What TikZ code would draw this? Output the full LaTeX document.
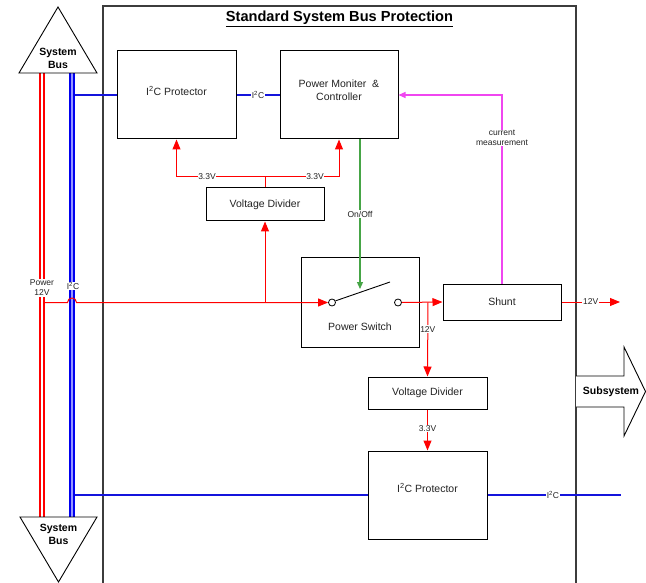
\documentclass[tikz,border=0pt]{standalone}
\usepackage{fontspec}
\setmainfont{Liberation Sans}
\usetikzlibrary{arrows.meta}
\definecolor{busred}{RGB}{255,0,0}
\definecolor{busblue}{RGB}{0,0,240}
\definecolor{busbluelight}{RGB}{150,150,255}
\definecolor{sigblue}{RGB}{20,20,220}
\definecolor{onoffgreen}{RGB}{70,165,70}
\definecolor{measmag}{RGB}{240,70,240}
\definecolor{framegray}{RGB}{60,60,60}
\definecolor{textgray}{RGB}{35,35,35}
\begin{document}
\begin{tikzpicture}[x=1pt,y=-1pt,
  box/.style={draw=black, line width=1pt, fill=white, inner sep=0pt},
  txt/.style={font=\fontsize{10.5}{12.5}\selectfont, text=textgray, align=center, inner sep=1pt},
  lbl/.style={font=\fontsize{8.5}{10}\selectfont, text=textgray, fill=white, inner sep=0.7pt, align=center},
  boldtxt/.style={font=\fontsize{10.5}{13}\selectfont\bfseries, align=center, inner sep=0pt},
  pline/.style={draw=busred, line width=1pt},
  parrow/.style={pline, -{Triangle[length=10pt,width=8pt]}},
  bline/.style={draw=sigblue, line width=1.2pt},
  rbus/.style={draw=busred, line width=2pt, double=white, double distance=1.6pt},
  bbus/.style={draw=busblue, line width=2pt, double=busbluelight, double distance=1.4pt},
  contact/.style={circle, draw=black, line width=0.8pt, fill=white, minimum size=7pt, inner sep=0pt},
  bustri/.style={draw=black, line width=0.9pt, fill=white}
]
\useasboundingbox (0,0) rectangle (646,583);
\clip (0,0) rectangle (646,583);

% main frame
\draw[framegray, line width=1.4pt] (103,6) rectangle (576,600);
\node[font=\fontsize{14.6}{16}\selectfont\bfseries, text=black] (title) at (339.5,18.5) {\underline{Standard System Bus Protection}};

% system buses
\coordinate (rbtop) at (42,73);
\coordinate (rbbot) at (42,517);
\coordinate (bbtop) at (72,73);
\coordinate (bbbot) at (72,517);
\draw[rbus] (rbtop) -- (rbbot);
\draw[bbus] (bbtop) -- (bbbot);

% boxes
\node[box, minimum width=119pt, minimum height=88pt] (i2ctop) at (176.5,95) {};
\node[txt] (i2ctopt) at (176.5,90.5) {I\textsuperscript{2}C Protector};
\node[box, minimum width=118pt, minimum height=88pt] (pmc) at (339,95) {};
\node[txt] (pmct) at (339,90) {Power Moniter\ \ \&\\Controller};
\node[box, minimum width=118pt, minimum height=33pt] (vd1) at (265,204.5) {};
\node[txt] (vd1t) at (265,204.5) {Voltage Divider};
\node[box, minimum width=118pt, minimum height=89pt] (psw) at (360,302.5) {};
\node[txt] (pswt) at (360,327) {Power Switch};
\node[box, minimum width=118pt, minimum height=36pt] (shunt) at (502,302) {};
\node[txt] (shuntt) at (502,302) {Shunt};
\node[box, minimum width=119pt, minimum height=32pt] (vd2) at (427.5,393) {};
\node[txt] (vd2t) at (427.5,393) {Voltage Divider};
\node[box, minimum width=119pt, minimum height=88pt] (i2cbot) at (427.5,495) {};
\node[txt] (i2cbott) at (427.5,488) {I\textsuperscript{2}C Protector};

% switch
\node[contact] (cL) at (332,302.5) {};
\node[contact] (cR) at (398,302.5) {};
\coordinate (leverend) at (390,282);
\draw[black, line width=0.9pt] (cL.25) -- (leverend);

% blue I2C lines
\coordinate (bt) at (74.5,95);
\draw[bline] (bt) -- (i2ctop.west);
\draw[bline] (i2ctop.east) -- node[lbl, pos=0.5] (l1) {I\textsuperscript{2}C} (pmc.west);
\coordinate (bb) at (74.5,495);
\coordinate (bbend) at (621,495);
\draw[bline] (bb) -- (i2cbot.west);
\draw[bline] (i2cbot.east) -- node[lbl, pos=0.49] (l2) {I\textsuperscript{2}C} (bbend);

% power path
\coordinate (rstart) at (44.5,302.5);
\coordinate (hop) at (67.5,302.5);
\draw[parrow] (rstart) -- (hop) arc[start angle=180, end angle=360, radius=4.5] -- (cL.west);
\coordinate (vd1in) at (265,302.5);
\draw[parrow] (vd1in) -- (vd1.south);
\coordinate (split) at (265,177);
\draw[pline] (vd1.north) -- (split);
\draw[parrow] (split) -| (i2ctop.south);
\draw[parrow] (split) -| (pmc.south);
\node[lbl] (l33a) at (207,177) {3.3V};
\node[lbl] (l33b) at (315,177) {3.3V};
\draw[parrow] (cR.east) -- (shunt.west);
\coordinate (br) at (428,302.5);
\draw[parrow] (br) -- node[lbl, pos=0.36] (l12a) {12V} (vd2.north);
\draw[parrow] (vd2.south) -- node[lbl, pos=0.47] (l33c) {3.3V} (i2cbot.north);
\coordinate (out) at (620,302);
\draw[parrow] (shunt.east) -- node[lbl, pos=0.5] (l12b) {12V} (out);

% on/off and measurement
\coordinate (levertip) at (360,289);
\draw[draw=onoffgreen, line width=1.2pt, -{Triangle[length=7pt,width=6pt]}] (pmc.south -| levertip) -- node[lbl, pos=0.5] (lon) {On/Off} (levertip);
\draw[draw=measmag, line width=1.2pt, -{Triangle[length=7pt,width=6pt]}] (shunt.north) |- (pmc.east);
\node[lbl] (lcm) at (502,138) {current\\measurement};

% bus labels
\node[lbl] (lpw) at (42,288) {Power\\12V};
\node[lbl] (li2c) at (73,286) {I\textsuperscript{2}C};

% bus triangles
\draw[bustri] (19,73) -- (97,73) -- (58,7) -- cycle;
\node[boldtxt] (sbtop) at (58,58.5) {System\\Bus};
\draw[bustri] (20,517) -- (97,517) -- (58.5,582) -- cycle;
\node[boldtxt] (sbbot) at (58.5,534.5) {System\\Bus};

% subsystem arrow
\draw[black, line width=0.9pt, fill=white] (576,376) -- (624,376) -- (624,347) -- (645.5,391.5) -- (624,436) -- (624,407) -- (576,407);
\node[boldtxt] (subsys) at (611,391.5) {Subsystem};
\end{tikzpicture}
\end{document}
